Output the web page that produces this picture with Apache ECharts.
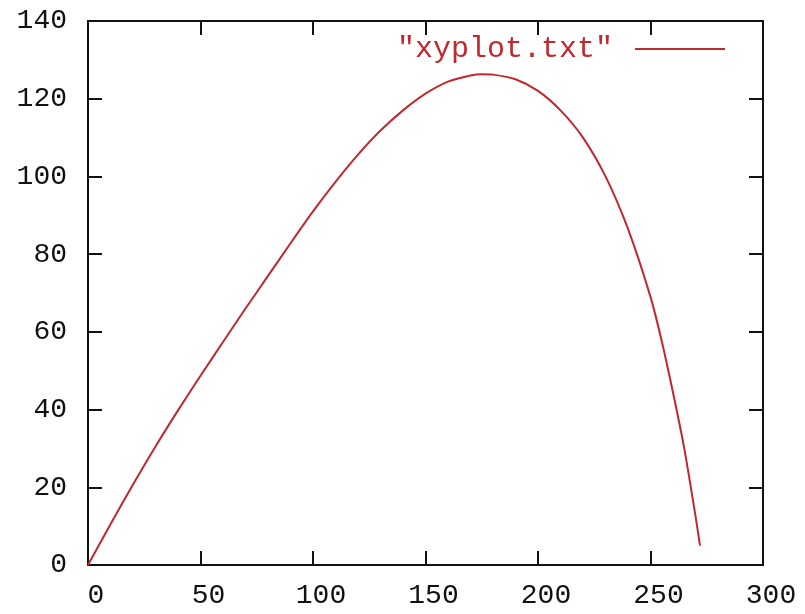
<!DOCTYPE html>
<html>
<head>
<meta charset="utf-8">
<script src="https://cdn.jsdelivr.net/npm/echarts@6/dist/echarts.min.js"></script>
<style>
	html,body{margin:0;padding:0;background:#fff;}
	#main{width:805px;height:614px;}
</style>
</head>
<body>
<div id="main"></div>
<script type="text/javascript">
	//数据
	var xs = [0,10,20,30,40,50,60,70,80,90,100,110,120,130,140,150,160,170,175,180,190,200,210,220,230,240,250,255,260,265,270,272];
	var ys = [0,10.5,20.7,30.5,39.8,48.7,57.4,66,74.4,82.8,91,98.6,105.6,111.8,117,121.3,124.4,126,126.3,126.2,125,122,117,110,100,86.5,69,57.6,44.4,30,12.6,5];
	var seriesName = '"xyplot.txt"';
	var xTicks = {min:0,max:300,interval:50};
	var yTicks = {min:0,max:140,interval:20};

	var red = '#c0282d';
	var ink = '#111';
	var font = 'Liberation Mono';

	var points = [];
	xs.forEach(function(x,i){
		points.push([x,ys[i]]);
	});

	//坐标轴
	function axis(pos,ticks,labels){
		var o = {
			type:'value',
			position:pos,
			min:ticks.min,
			max:ticks.max,
			interval:ticks.interval,
			splitLine:{show:false},
			axisLine:{show:true,onZero:false,lineStyle:{color:ink,width:2}},
			axisTick:{show:true,inside:true,length:14,lineStyle:{color:ink,width:2}},
			axisLabel:{show:labels,color:ink,fontFamily:font,fontSize:28}
		};
		return o;
	}

	var xBottom = axis('bottom',xTicks,true);
	xBottom.axisLabel.margin = 17;
	xBottom.axisLabel.padding = [0,0,0,16];
	var yLeft = axis('left',yTicks,true);
	yLeft.axisLabel.margin = 21;

	var myChart = echarts.init(document.getElementById('main'));
	var option = {
		animation:false,
		grid:{left:88,right:42,top:21,bottom:49,containLabel:false},
		legend:{
			show:true,
			right:75,
			top:29,
			align:'right',
			icon:'rect',
			itemWidth:90,
			itemHeight:2,
			textStyle:{color:red,fontFamily:font,fontSize:30,padding:[0,17,0,0]},
			data:[seriesName]
		},
		xAxis:[xBottom,axis('top',xTicks,false)],
		yAxis:[yLeft,axis('right',yTicks,false)],
		series:[{
			name:seriesName,
			type:'line',
			data:points,
			symbol:'none',
			smooth:0.25,
			lineStyle:{color:red,width:2},
			itemStyle:{color:red}
		}]
	};
	myChart.setOption(option);
</script>
</body>
</html>
